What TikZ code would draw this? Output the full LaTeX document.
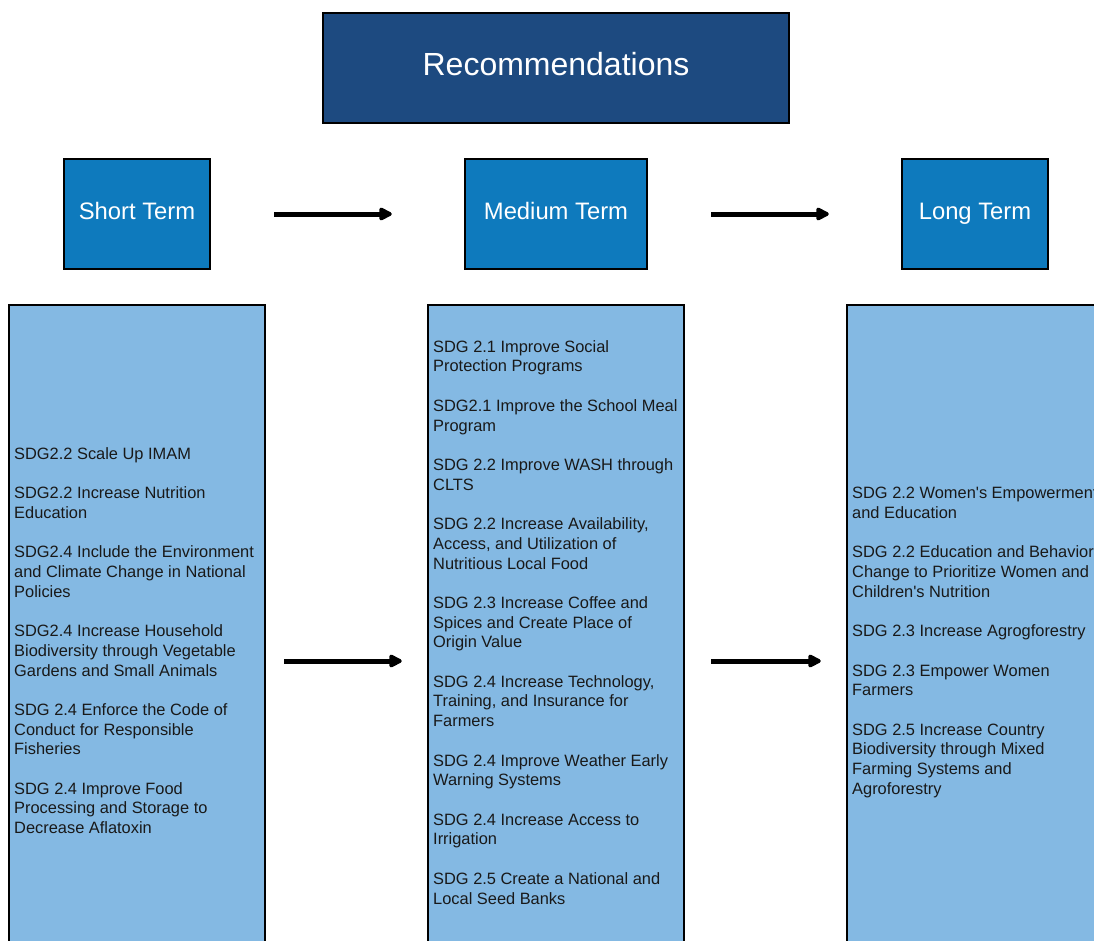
\documentclass[tikz,border=0pt]{standalone}
\usepackage{fontspec}
\setmainfont{Liberation Sans}
\usetikzlibrary{positioning,arrows.meta}
\definecolor{recblue}{RGB}{29,74,128}
\definecolor{termblue}{RGB}{14,122,189}
\definecolor{listblue}{RGB}{132,185,227}

\begin{document}
\begin{tikzpicture}[x=1pt, y=-1pt, >={Triangle[length=15pt,width=14pt,round]},
  titlebox/.style={draw=black, line width=2.5pt, fill=recblue, text=white,
    minimum width=466pt, minimum height=110pt,
    font=\fontsize{32}{38}\selectfont, text height=23pt, text depth=9pt},
  termbox/.style={draw=black, line width=2.5pt, fill=termblue, text=white,
    minimum height=110pt, font=\fontsize{23.8}{28}\selectfont,
    text height=17pt, text depth=6pt},
  listbox/.style={draw=black, line width=2.5pt, fill=listblue,
    minimum width=256pt, minimum height=712pt},
  listtext/.style={anchor=north west, inner sep=0pt, align=left,
    text=black!90, font=\fontsize{16.4}{19.71}\selectfont},
  flow/.style={->, line width=5pt}]

  \clip (0,0) rectangle (1094,940);

  % header
  \node[titlebox] (rec) at (556,68) {Recommendations};

  % terms
  \node[termbox, minimum width=146pt] (short) at (137,214) {Short Term};
  \node[termbox, minimum width=182pt] (medium) at (556,214) {Medium Term};
  \node[termbox, minimum width=146pt] (long) at (975,214) {Long Term};

  \draw[flow, shorten <=63pt, shorten >=72pt] (short) -- (medium);
  \draw[flow, shorten <=63pt, shorten >=72pt] (medium) -- (long);

  % lists
  \node[listbox] (shortlist) at (137,661) {};
  \node[listbox] (mediumlist) at (556,661) {};
  \node[listbox] (longlist) at (975,661) {};

  \draw[flow, shorten <=18pt, shorten >=25pt] (shortlist) -- (mediumlist);
  \draw[flow, shorten <=26pt, shorten >=25pt] (mediumlist) -- (longlist);

  \node[listtext] (shorttext) at (14,445.2) {\strut SDG2.2 Scale Up IMAM\\[19.71pt]
    SDG2.2 Increase Nutrition\\ Education\\[19.71pt]
    SDG2.4 Include the Environment\\ and Climate Change in National\\ Policies\\[19.71pt]
    SDG2.4 Increase Household\\ Biodiversity through Vegetable\\ Gardens and Small Animals\\[19.71pt]
    SDG 2.4 Enforce the Code of\\ Conduct for Responsible\\ Fisheries\\[19.71pt]
    SDG 2.4 Improve Food\\ Processing and Storage to\\ Decrease Aflatoxin};

  \node[listtext] (mediumtext) at (433,338.2) {\strut SDG 2.1 Improve Social\\ Protection Programs\\[19.71pt]
    SDG2.1 Improve the School Meal\\ Program\\[19.71pt]
    SDG 2.2 Improve WASH through\\ CLTS\\[19.71pt]
    SDG 2.2 Increase Availability,\\ Access, and Utilization of\\ Nutritious Local Food\\[19.71pt]
    SDG 2.3 Increase Coffee and\\ Spices and Create Place of\\ Origin Value\\[19.71pt]
    SDG 2.4 Increase Technology,\\ Training, and Insurance for\\ Farmers\\[19.71pt]
    SDG 2.4 Improve Weather Early\\ Warning Systems\\[19.71pt]
    SDG 2.4 Increase Access to\\ Irrigation\\[19.71pt]
    SDG 2.5 Create a National and\\ Local Seed Banks};

  \node[listtext] (longtext) at (852,484.6) {\strut SDG 2.2 Women\textquotesingle s Empowerment\\ and Education\\[19.71pt]
    SDG 2.2 Education and Behavior\\ Change to Prioritize Women and\\ Children\textquotesingle s Nutrition\\[19.71pt]
    SDG 2.3 Increase Agrogforestry\\[19.71pt]
    SDG 2.3 Empower Women\\ Farmers\\[19.71pt]
    SDG 2.5 Increase Country\\ Biodiversity through Mixed\\ Farming Systems and\\ Agroforestry};
\end{tikzpicture}
\end{document}
